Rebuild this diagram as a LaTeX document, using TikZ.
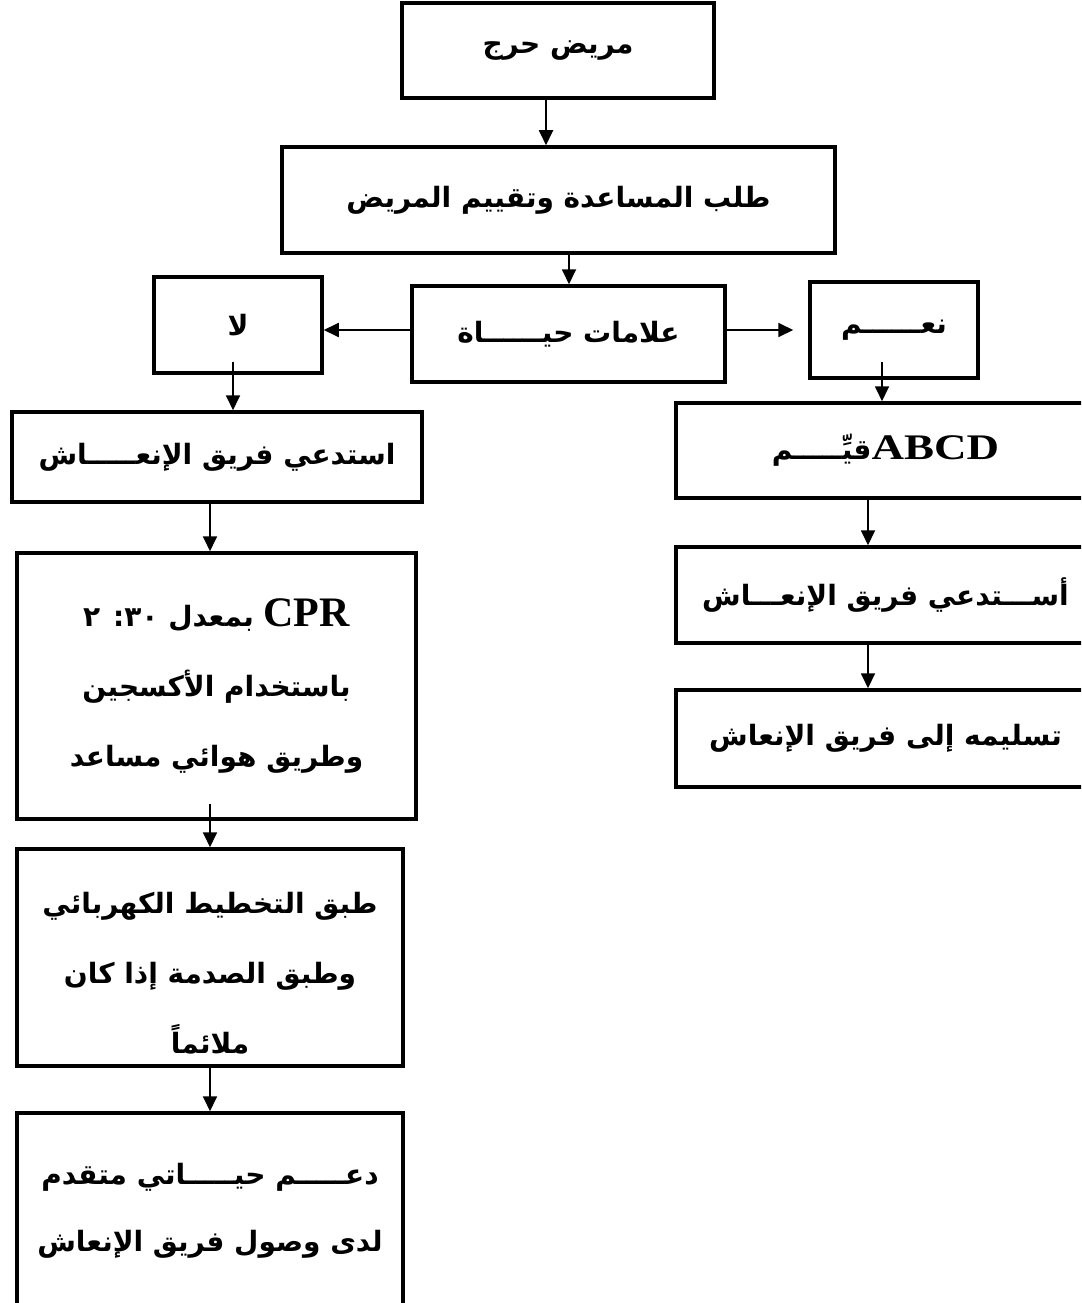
\documentclass[tikz,border=0pt]{standalone}
\usepackage{fontspec}
\usepackage{graphicx}
\setmainfont{Liberation Serif}
\newfontfamily\arabicfont[Script=Arabic]{DejaVu Sans}
\TeXXeTstate=1
\usetikzlibrary{arrows.meta}
\newcommand{\ar}[1]{{\arabicfont\bfseries\beginR #1\endR}}
\tikzset{
  box/.style={draw, line width=3.5pt, rectangle, inner sep=0pt, align=center,
    font=\fontsize{28}{70}\selectfont},
  arr/.style={line width=1.8pt, -{Triangle[length=15pt,width=14pt]}}
}
\begin{document}
\begin{tikzpicture}[x=1pt,y=-1pt]
\useasboundingbox (0,0) rectangle (1081,1303);
\clip (0,0) rectangle (1081,1303);
\fill[white] (0,0) rectangle (1081,1303);
% boxes
\node[box, minimum width=312pt, minimum height=95pt] (crit) at (558,50.5) {\ar{مريض حرج}};
\node[box, minimum width=553pt, minimum height=106pt] (ask) at (558.5,200) {\ar{طلب المساعدة وتقييم المريض}};
\node[box, minimum width=313pt, minimum height=96pt] (signs) at (568.5,334) {\ar{علامات حيــــــاة}};
\node[box, minimum width=168pt, minimum height=96pt] (no) at (238,325) {\ar{لا}};
\node[box, minimum width=168pt, minimum height=96pt] (yes) at (894,330) {\ar{نعــــــم}};
\node[box, minimum width=410pt, minimum height=90pt] (callL) at (217,457) {\ar{استدعي فريق الإنعـــــاش}};
\node[box, minimum width=419pt, minimum height=95pt] (abcd) at (885.5,450.5)
  {\ar{قيِّـــــم}\scalebox{1.25}[1]{\fontsize{36}{36}\selectfont\bfseries ABCD}};
\node[box, minimum width=419pt, minimum height=96pt] (callR) at (885.5,595) {\ar{أســـتدعي فريق الإنعـــاش}};
\node[box, minimum width=419pt, minimum height=97pt] (hand) at (885.5,738.5) {\ar{تسليمه إلى فريق الإنعاش}};
\node[box, minimum width=399pt, minimum height=266pt] (cpr) at (216.5,686)
  {{\arabicfont\bfseries\beginR\beginL{\fontsize{42}{42}\selectfont\rmfamily CPR}\endL{} بمعدل \beginL ٣٠\endL: ٢\endR}\\
   \ar{باستخدام الأكسجين}\\ \ar{وطريق هوائي مساعد}};
\node[box, minimum width=386pt, minimum height=217pt] (ecg) at (210,957.5)
  {\rule{0pt}{52pt}\ar{طبق التخطيط الكهربائي}\\ \ar{وطبق الصدمة إذا كان}\\ \ar{ملائماً}};
\node[box, minimum width=386pt, minimum height=196pt, font=\fontsize{28}{67}\selectfont] (als) at (210,1211)
  {\ar{دعـــــم حيـــــاتي متقدم}\\ \ar{لدى وصول فريق الإنعاش}};
% connectors
\draw[arr] ([xshift=-12pt]crit.south) -- ([xshift=-12.5pt]ask.north);
\draw[arr] ([xshift=10.5pt]ask.south) -- ([xshift=0.5pt]signs.north);
\draw[arr] ([yshift=4pt]signs.west) -- ([yshift=-5pt]no.east);
\draw[arr] ([yshift=4pt]signs.east) -- ([xshift=-15pt]yes.west);
\draw[arr] ([xshift=-5pt,yshift=13pt]no.south) -- ([xshift=16pt]callL.north);
\draw[arr] ([xshift=-12pt,yshift=18pt]yes.south) -- ([xshift=-3.5pt]abcd.north);
\draw[arr] ([xshift=-17.5pt]abcd.south) -- ([xshift=-17.5pt]callR.north);
\draw[arr] ([xshift=-17.5pt]callR.south) -- ([xshift=-17.5pt]hand.north);
\draw[arr] ([xshift=-7pt]callL.south) -- ([xshift=-6.5pt]cpr.north);
\draw[arr] ([xshift=-6.5pt,yshift=17pt]cpr.south) -- (ecg.north);
\draw[arr] (ecg.south) -- (als.north);
\end{tikzpicture}
\end{document}
